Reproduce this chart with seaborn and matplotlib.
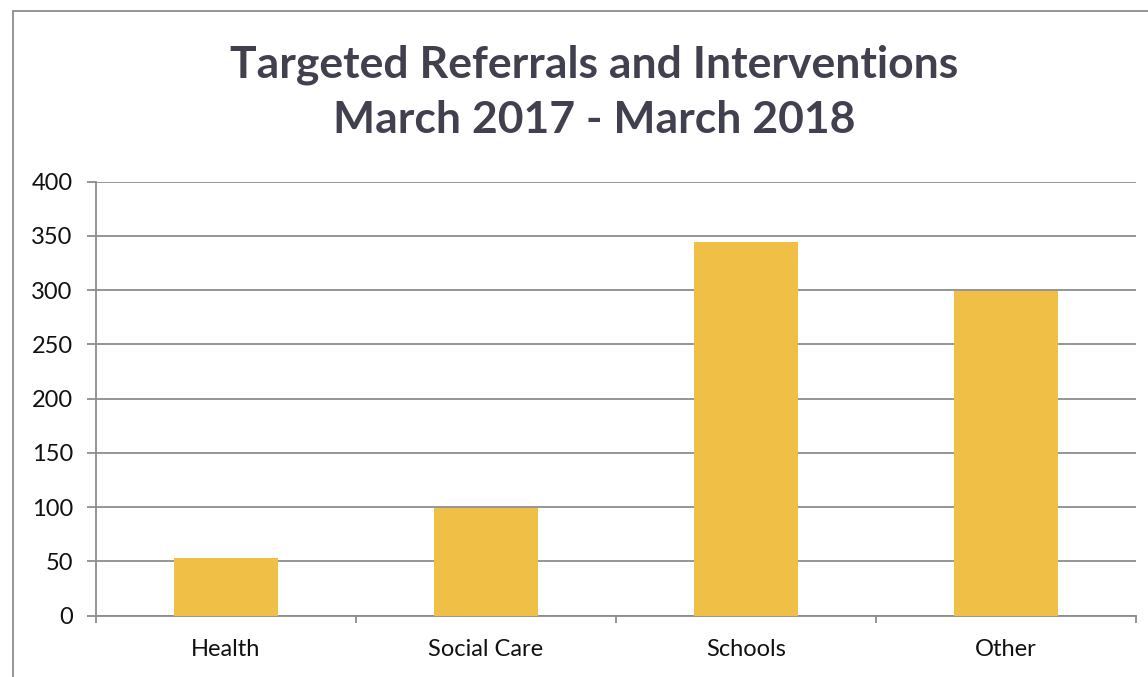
import matplotlib
matplotlib.use("Agg")
import matplotlib.pyplot as plt
import seaborn as sns
import pandas as pd
from matplotlib.patches import Rectangle

categories = ["Health", "Social Care", "Schools", "Other"]
values = [53, 99, 344, 299]
y_ticks = [0, 50, 100, 150, 200, 250, 300, 350, 400]
title_text = "Targeted Referrals and Interventions\nMarch 2017 - March 2018"

sns.set_theme(style="white")
plt.rcParams['font.family'] = ['Lato', 'DejaVu Sans']

df = pd.DataFrame({"category": categories, "value": values})

fig = plt.figure(figsize=(11.48, 6.77), dpi=100)
ax = fig.add_axes([95.7 / 1148, 1 - 615.7 / 677, (1136 - 95.7) / 1148, (615.7 - 181.7) / 677])

sns.barplot(data=df, x="category", y="value", color="#F0BF45", width=0.4,
            saturation=1, ax=ax, zorder=3, linewidth=0)

ax.set_ylim(0, 400)
ax.set_xlim(-0.5, len(categories) - 0.5)
ax.set_yticks(y_ticks)
ax.set_yticklabels([str(t) for t in y_ticks])
ax.set_xlabel("")
ax.set_ylabel("")

grid_c = "#8c8c8c"
ax.yaxis.grid(True, color=grid_c, linewidth=1.3, zorder=0)
ax.set_axisbelow(True)
for s in ["top", "right"]:
    ax.spines[s].set_visible(False)
for s in ["left", "bottom"]:
    ax.spines[s].set_color(grid_c)
    ax.spines[s].set_linewidth(1.3)

ax.tick_params(axis="y", which="major", direction="out", length=6.5, width=1.3,
               color=grid_c, left=True, pad=10, labelsize=17, labelcolor="#111111")
ax.tick_params(axis="x", which="major", length=0, pad=17, labelsize=17,
               labelcolor="#111111")
ax.set_xticks([i - 0.5 for i in range(len(categories) + 1)], minor=True)
ax.tick_params(axis="x", which="minor", direction="out", length=5, width=1.3,
               color=grid_c, bottom=True)

fig.text(594 / 1148, 1 - 92 / 677, title_text, ha="center", va="center",
         fontsize=32, fontweight="bold", color="#40404E", linespacing=1.45)

fig.patches.append(Rectangle((12.7 / 1148, -0.05), 1.1, 1 - 10.7 / 677 + 0.05,
                             transform=fig.transFigure, fill=False,
                             edgecolor="#8c8c8c", linewidth=1.3))

fig.savefig("out.png", dpi=100, facecolor="white")
